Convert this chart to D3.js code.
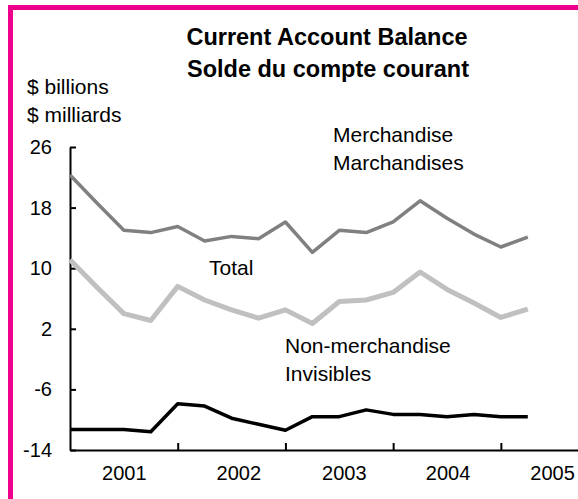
<!DOCTYPE html>
<html><head><meta charset="utf-8">
<script src="https://cdn.jsdelivr.net/npm/d3@7"></script>
<style>
html,body{margin:0;padding:0;background:#fff;}
svg{display:block;font-family:"Liberation Sans",Arial,sans-serif;}
</style></head>
<body>
<svg id="chart" width="578" height="499"></svg>
<script>
// ---- data ----
const quarters = ["2001Q1","2001Q2","2001Q3","2001Q4","2002Q1","2002Q2","2002Q3","2002Q4",
  "2003Q1","2003Q2","2003Q3","2003Q4","2004Q1","2004Q2","2004Q3","2004Q4","2005Q1","2005Q2"];
const merchandise = [22.3,18.6,15.0,14.7,15.5,13.6,14.2,13.9,16.1,12.1,15.0,14.7,16.1,18.9,16.6,14.5,12.8,14.1];
const total = [11.1,7.5,4.0,3.1,7.6,5.8,4.5,3.4,4.5,2.7,5.6,5.8,6.8,9.5,7.2,5.4,3.5,4.6];
const nonMerchandise = [-11.3,-11.3,-11.3,-11.6,-7.9,-8.2,-9.8,-10.6,-11.4,-9.6,-9.6,-8.7,-9.3,-9.3,-9.6,-9.3,-9.6,-9.6];
const yTicks = [26,18,10,2,-6,-14];
const yearLabels = ["2001","2002","2003","2004","2005"];
const yearTickIdx = [4,8,12,16];
const yearLabelIdx = [2,6.25,10.17,14.02,17.9];

const svg = d3.select("#chart");
const x = d3.scaleLinear().domain([0,19.7]).range([70,600.5]);
const y = d3.scaleLinear().domain([-14,26]).range([450,147]);

// pink frame
svg.append("rect").attr("x",10.5).attr("y",7.5).attr("width",620).attr("height",540)
  .attr("fill","none").attr("stroke","#ec008c").attr("stroke-width",5);

// title
const title = svg.append("text").attr("text-anchor","middle").attr("font-weight","bold")
  .attr("font-size",23.5).attr("fill","#000");
title.append("tspan").attr("x",327).attr("y",45).text("Current Account Balance");
title.append("tspan").attr("x",328).attr("y",76.5).text("Solde du compte courant");

// unit label
svg.append("text").attr("x",27).attr("y",94).attr("font-size",21).text("$ billions");
svg.append("text").attr("x",27).attr("y",121.5).attr("font-size",21).text("$ milliards");

// axes
const yAxis = d3.axisLeft(y).tickValues(yTicks).tickSize(-6).tickSizeOuter(0).tickPadding(18)
  .tickFormat(d => String(d));
const gy = svg.append("g").attr("transform","translate(70,0)").call(yAxis);
gy.selectAll("text").attr("font-size",20).attr("font-family","Liberation Sans, Arial, sans-serif").attr("fill","#000");
gy.selectAll("line").attr("stroke","#000").attr("stroke-width",2);
gy.select(".domain").attr("stroke","#000").attr("stroke-width",2);

const xAxis = d3.axisBottom(x).tickValues(yearTickIdx).tickSize(-7).tickSizeOuter(0).tickFormat("");
const gx = svg.append("g").attr("transform","translate(0,450)").call(xAxis);
gx.selectAll("line").attr("stroke","#000").attr("stroke-width",2);
gx.select(".domain").attr("stroke","#000").attr("stroke-width",2);

const xLab = d3.axisBottom(x).tickValues(yearLabelIdx).tickSize(0).tickPadding(16)
  .tickFormat((d,i)=>yearLabels[i]);
const gl = svg.append("g").attr("transform","translate(0,450)").call(xLab);
gl.select(".domain").remove();
gl.selectAll("text").attr("font-size",20).attr("font-family","Liberation Sans, Arial, sans-serif").attr("fill","#000");

// lines
const line = d3.line().x((d,i)=>x(i)).y(d=>y(d));
svg.append("path").datum(merchandise).attr("d",line).attr("fill","none")
  .attr("stroke","#808080").attr("stroke-width",3.5).attr("stroke-linejoin","round");
svg.append("path").datum(total).attr("d",line).attr("fill","none")
  .attr("stroke","#c0c0c0").attr("stroke-width",5).attr("stroke-linejoin","round");
svg.append("path").datum(nonMerchandise).attr("d",line).attr("fill","none")
  .attr("stroke","#000").attr("stroke-width",3.5).attr("stroke-linejoin","round");

// series labels
function label(lines, x0, y0, dy){
  const t = svg.append("text").attr("font-size",21).attr("fill","#000");
  lines.forEach((s,i)=>t.append("tspan").attr("x",x0).attr("y",y0+i*dy).text(s));
}
label(["Merchandise","Marchandises"],333,142,28);
label(["Total"],209,275,0);
label(["Non-merchandise","Invisibles"],285,353,27.5);
</script>
</body></html>
